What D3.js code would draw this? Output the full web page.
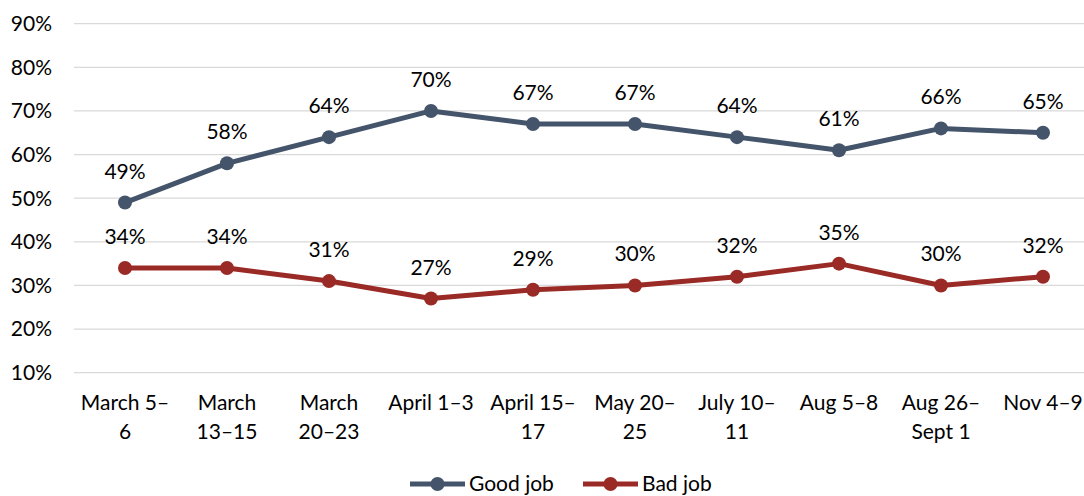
<!DOCTYPE html>
<html>
<head>
  <meta charset="utf-8">
  <script src="https://d3js.org/d3.v7.min.js"></script>
  <style type="text/css">
    body { margin: 0; background: #fff; }
    text { font-family: Lato, "Open Sans", sans-serif; fill: #000; }
  </style>
</head>
<body>
  <script type="text/javascript">
    // Data
    var periods = [["March 5–", "6"], ["March", "13–15"], ["March", "20–23"], ["April 1–3"],
                   ["April 15–", "17"], ["May 20–", "25"], ["July 10–", "11"], ["Aug 5–8"],
                   ["Aug 26–", "Sept 1"], ["Nov 4–9"]];
    var goodJob = [49, 58, 64, 70, 67, 67, 64, 61, 66, 65];
    var badJob = [34, 34, 31, 27, 29, 30, 32, 35, 30, 32];
    var yTicks = [10, 20, 30, 40, 50, 60, 70, 80, 90];
    var seriesNames = ["Good job", "Bad job"];

    var width = 1084, height = 496;
    var colors = ["#44546a", "#9a2a26"];
    var fs = "21px";

    var svg = d3.select("body").append("svg")
        .attr("width", width)
        .attr("height", height);

    var x = d3.scaleBand()
        .domain(d3.range(periods.length))
        .range([74, 1094]);

    var y = d3.scaleLinear()
        .domain([10, 90])
        .range([372.7, 23.7]);

    // gridlines
    svg.append("g").selectAll("line")
        .data(yTicks)
        .enter().append("line")
        .attr("x1", 74).attr("x2", 1084)
        .attr("y1", function(d) { return y(d); })
        .attr("y2", function(d) { return y(d); })
        .attr("stroke", "#d9d9d9")
        .attr("stroke-width", 1.3);

    // y labels
    svg.append("g").selectAll("text")
        .data(yTicks)
        .enter().append("text")
        .attr("x", 52)
        .attr("y", function(d) { return y(d); })
        .attr("dy", "0.35em")
        .attr("text-anchor", "end")
        .style("font-size", fs)
        .text(function(d) { return d + "%"; });

    // x labels
    var xl = svg.append("g").selectAll("text")
        .data(periods)
        .enter().append("text")
        .attr("text-anchor", "middle")
        .style("font-size", fs)
        .attr("transform", function(d, i) {
          return "translate(" + (x(i) + x.bandwidth() / 2) + ",410)";
        });
    xl.selectAll("tspan")
        .data(function(d) { return d; })
        .enter().append("tspan")
        .attr("x", 0)
        .attr("y", function(d, i) { return i * 29; })
        .text(function(d) { return d; });

    var cx = function(d, i) { return x(i) + x.bandwidth() / 2; };
    var line = d3.line()
        .x(cx)
        .y(function(d) { return y(d); });

    [goodJob, badJob].forEach(function(vals, s) {
      var g = svg.append("g");
      g.append("path")
        .datum(vals)
        .attr("d", line)
        .attr("fill", "none")
        .attr("stroke", colors[s])
        .attr("stroke-width", 5)
        .attr("stroke-linejoin", "round");
      g.selectAll("circle")
        .data(vals)
        .enter().append("circle")
        .attr("cx", cx)
        .attr("cy", function(d) { return y(d); })
        .attr("r", 7)
        .attr("fill", colors[s]);
      g.selectAll("text")
        .data(vals)
        .enter().append("text")
        .attr("x", cx)
        .attr("y", function(d) { return y(d) - 24; })
        .attr("text-anchor", "middle")
        .style("font-size", fs)
        .text(function(d) { return d + "%"; });
    });

    // legend
    var legendX = [410, 583];
    seriesNames.forEach(function(name, s) {
      var lg = svg.append("g").attr("transform", "translate(" + legendX[s] + ",484)");
      lg.append("line")
        .attr("x1", 0).attr("x2", 55)
        .attr("stroke", colors[s])
        .attr("stroke-width", 5);
      lg.append("circle")
        .attr("cx", 27.5).attr("r", 7)
        .attr("fill", colors[s]);
      lg.append("text")
        .attr("x", 59)
        .attr("dy", "0.35em")
        .style("font-size", fs)
        .text(name);
    });
  </script>
</body>
</html>
